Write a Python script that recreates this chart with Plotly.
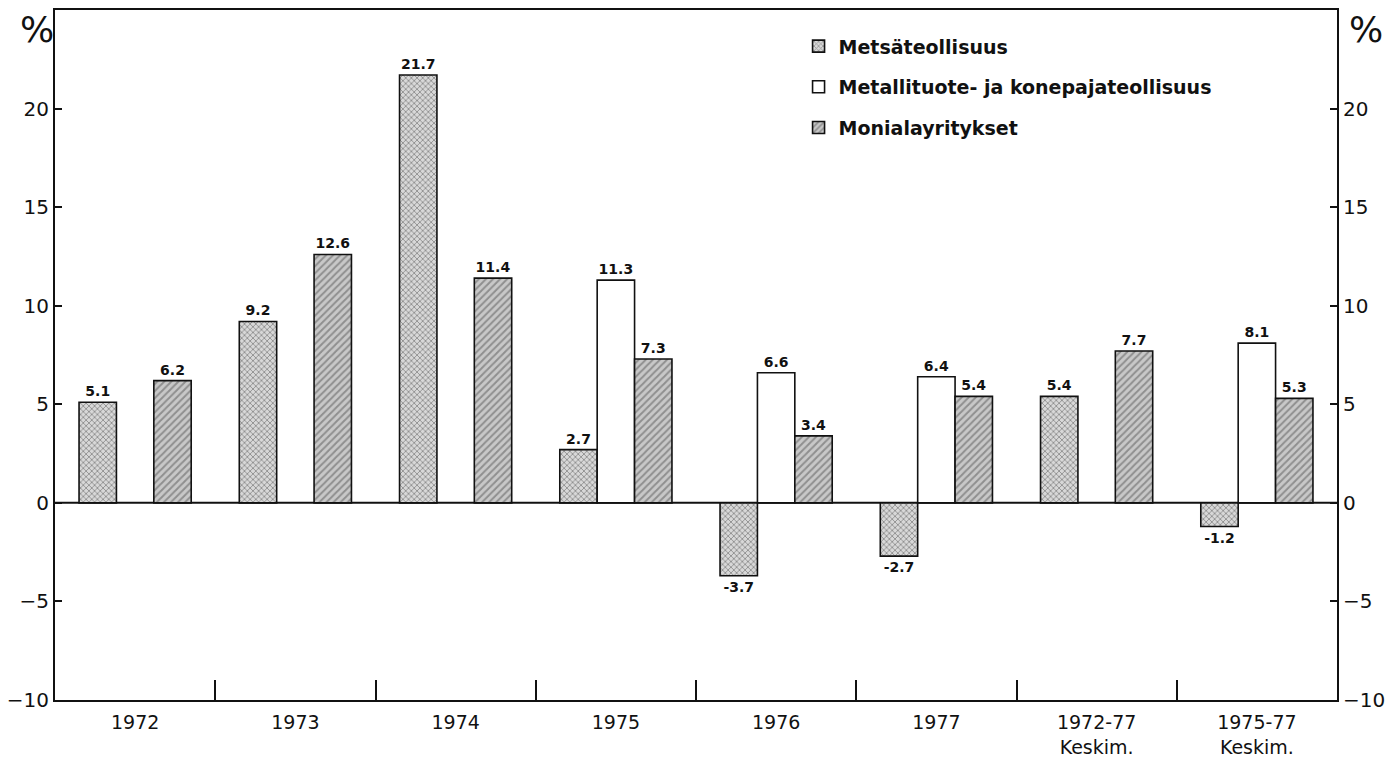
import plotly.graph_objects as go

categories = ["1972", "1973", "1974", "1975", "1976", "1977", "1972-77<br>Keskim.", "1975-77<br>Keskim."]
metsa = [5.1, 9.2, 21.7, 2.7, -3.7, -2.7, 5.4, -1.2]
metalli = [None, None, None, 11.3, 6.6, 6.4, None, 8.1]
monia = [6.2, 12.6, 11.4, 7.3, 3.4, 5.4, 7.7, 5.3]
y_ticks = [-10, -5, 0, 5, 10, 15, 20]

FONT = "DejaVu Sans, Liberation Sans, sans-serif"

def labels(vals):
    return [("" if v is None else f"{v:.1f}") for v in vals]

fig = go.Figure()
fig.add_trace(go.Bar(
    name="Metsäteollisuus", x=categories, y=metsa, legendgroup="a",
    text=labels(metsa), textposition="outside",
    marker=dict(color="#cfcfcf", line=dict(color="#111", width=1.6),
                pattern=dict(shape="x", fgcolor="#444", bgcolor="#d8d8d8", size=4, solidity=0.4)),
))
fig.add_trace(go.Bar(
    name="Metallituote- ja konepajateollisuus", x=categories, y=metalli, legendgroup="b",
    text=labels(metalli), textposition="outside",
    marker=dict(color="white", line=dict(color="#111", width=1.6)),
))
fig.add_trace(go.Bar(
    name="Monialayritykset", x=categories, y=monia, legendgroup="c",
    text=labels(monia), textposition="outside",
    marker=dict(color="#bdbdbd", line=dict(color="#111", width=1.6),
                pattern=dict(shape="/", fgcolor="#555", bgcolor="#c8c8c8", size=5, solidity=0.4)),
))
# invisible trace for the right-hand axis
fig.add_trace(go.Scatter(x=[categories[0]], y=[0], yaxis="y2", mode="markers",
                         marker=dict(opacity=0), showlegend=False, hoverinfo="skip"))

fig.update_traces(selector=dict(type="bar"),
                  textfont=dict(family=FONT, size=14, color="#111", weight="bold"),
                  cliponaxis=False)

axis_common = dict(range=[-10, 25], tickvals=y_ticks, ticks="inside", ticklen=7,
                   tickcolor="#111", tickwidth=1.5, showgrid=False, zeroline=False,
                   automargin=False,
                   tickfont=dict(family=FONT, size=20, color="#111"))

fig.update_layout(
    width=1399, height=764,
    paper_bgcolor="white", plot_bgcolor="white",
    margin=dict(l=55, r=62, t=10, b=64),
    barmode="group", bargap=0.3, bargroupgap=0.0,
    font=dict(family=FONT, color="#111"),
    xaxis=dict(type="category", tickson="boundaries", ticks="inside", ticklen=20,
               tickcolor="#111", tickwidth=1.5, showline=True, linecolor="#111", linewidth=2,
               mirror=True, showgrid=False, automargin=False, ticklabelstandoff=4,
               tickfont=dict(family=FONT, size=19, color="#111")),
    yaxis=dict(showline=True, linecolor="#111", linewidth=2, side="left", **axis_common),
    yaxis2=dict(overlaying="y", side="right", showline=True, linecolor="#111", linewidth=2,
                matches="y", **axis_common),
    legend=dict(x=0.58, y=0.975, xanchor="left", yanchor="top",
                bgcolor="rgba(255,255,255,0)", borderwidth=0,
                font=dict(family=FONT, size=19, color="#111", weight="bold"),
                tracegroupgap=13, itemwidth=30),
    showlegend=True,
)

# zero line
fig.add_shape(type="line", xref="paper", x0=0, x1=1, yref="y", y0=0, y1=0,
              line=dict(color="#111", width=2), layer="below")

for xp in [-0.014, 1.023]:
    fig.add_annotation(text="%", xref="paper", yref="paper", x=xp, y=1.005,
                       xanchor="center", yanchor="top", showarrow=False,
                       font=dict(family=FONT, size=36, color="#111"))

fig.write_html("out.html", config={"displayModeBar": False},
               post_script="document.body.style.margin='0';")
